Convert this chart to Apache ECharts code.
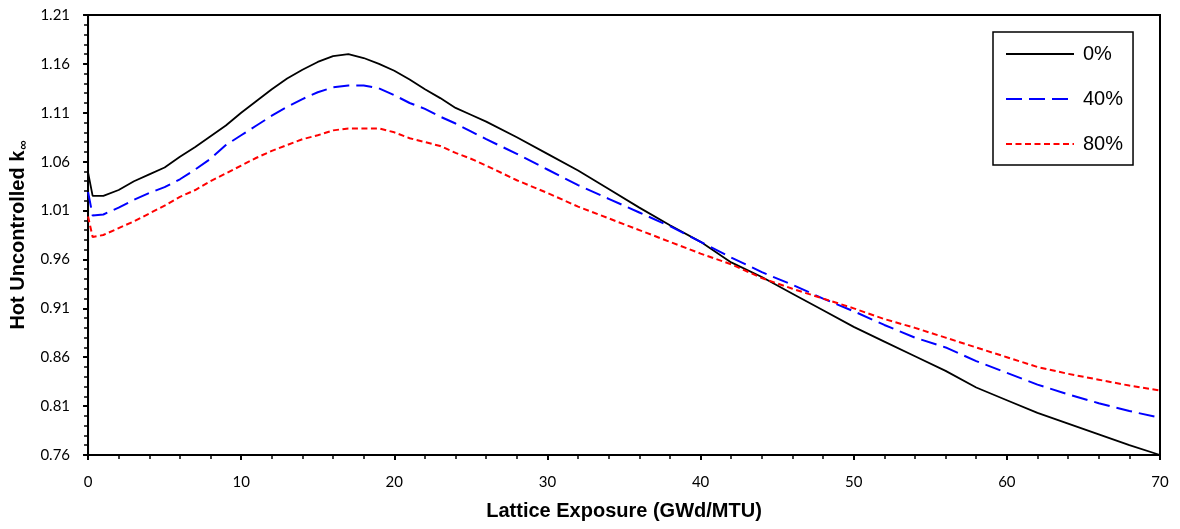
<!DOCTYPE html>
<html>
<head>
<meta charset="utf-8">
<script src="https://cdn.jsdelivr.net/npm/echarts@6/dist/echarts.min.js"></script>
<style>
  html, body { margin: 0; padding: 0; background: #fff; }
  #chart { width: 1180px; height: 529px; }
</style>
</head>
<body>
<div id="chart"></div>
<script>
// exposure grid (GWd/MTU) shared by all three curves
const exposure = [0, 0.3, 1, 2, 3, 4, 5, 6, 7, 8, 9, 10, 11, 12, 13, 14, 15, 16, 17, 18, 19, 20,
    21, 22, 23, 24, 25, 26, 28, 30, 32, 34, 36, 38, 40, 42, 44, 46, 48, 50, 52, 54, 56, 58, 60,
    62, 64, 66, 68, 70];

const k0 = [1.049, 1.025, 1.025, 1.031, 1.040, 1.047, 1.054, 1.065, 1.075, 1.086, 1.097, 1.110,
    1.122, 1.134, 1.145, 1.154, 1.162, 1.168, 1.170, 1.166, 1.160, 1.153, 1.144, 1.134, 1.125,
    1.115, 1.108, 1.101, 1.085, 1.068, 1.051, 1.032, 1.013, 0.995, 0.978, 0.957, 0.942, 0.925,
    0.908, 0.891, 0.876, 0.861, 0.846, 0.829, 0.816, 0.803, 0.792, 0.781, 0.770, 0.760];

const k40 = [1.029, 1.005, 1.006, 1.013, 1.021, 1.028, 1.034, 1.042, 1.052, 1.063, 1.077, 1.087,
    1.097, 1.107, 1.116, 1.124, 1.131, 1.136, 1.138, 1.138, 1.135, 1.128, 1.120, 1.114, 1.106,
    1.099, 1.091, 1.083, 1.068, 1.052, 1.036, 1.022, 1.008, 0.994, 0.978, 0.962, 0.947, 0.934,
    0.920, 0.907, 0.893, 0.880, 0.870, 0.856, 0.844, 0.832, 0.822, 0.813, 0.805, 0.798];

const k80 = [1.004, 0.983, 0.985, 0.992, 0.999, 1.007, 1.015, 1.024, 1.031, 1.040, 1.048, 1.056,
    1.064, 1.071, 1.077, 1.083, 1.087, 1.092, 1.094, 1.094, 1.094, 1.090, 1.084, 1.080, 1.076,
    1.069, 1.063, 1.056, 1.041, 1.028, 1.014, 1.002, 0.990, 0.978, 0.966, 0.955, 0.941, 0.930,
    0.920, 0.910, 0.899, 0.890, 0.880, 0.870, 0.860, 0.850, 0.843, 0.837, 0.831, 0.826];

const seriesNames = ['0%', '40%', '80%'];

const pairs = (ys) => exposure.map((x, i) => [x, ys[i]]);

const myChart = echarts.init(document.getElementById('chart'));

const tickFont = { fontFamily: 'Lato', fontSize: 15, color: '#000' };
const titleFont = { fontFamily: 'Liberation Sans', fontWeight: 'bold', color: '#000' };

const option = {
    backgroundColor: '#fff',
    animation: false,
    grid: {
        left: 86, right: 20, top: 15, bottom: 74,
        show: true, borderColor: '#000', borderWidth: 2
    },
    legend: {
        orient: 'vertical',
        left: 993, top: 32,
        data: seriesNames,
        itemWidth: 68, itemHeight: 20, itemGap: 25,
        padding: [12, 10, 11, 12],
        borderColor: '#000', borderWidth: 1.5,
        backgroundColor: '#fff',
        itemStyle: { opacity: 0 },
        textStyle: { fontFamily: 'Liberation Sans', fontSize: 20, color: '#000', lineHeight: 20, padding: [0, 0, 0, 4] }
    },
    xAxis: {
        type: 'value',
        min: 0, max: 70, interval: 10,
        name: 'Lattice Exposure (GWd/MTU)',
        nameLocation: 'middle',
        nameGap: 46,
        nameTextStyle: Object.assign({ fontSize: 20 }, titleFont),
        axisLine: { lineStyle: { color: '#000', width: 2 } },
        axisTick: { length: 5, lineStyle: { color: '#000', width: 2 } },
        minorTick: { show: true, splitNumber: 5, length: 4, lineStyle: { color: '#000', width: 1.5 } },
        splitLine: { show: false },
        axisLabel: Object.assign({ margin: 20 }, tickFont)
    },
    yAxis: {
        type: 'value',
        min: 0.76, max: 1.21, interval: 0.05,
        name: '{a|Hot Uncontrolled k}{b|∞}',
        nameLocation: 'middle',
        nameRotate: 90,
        nameGap: 57,
        nameTextStyle: {
            rich: {
                a: Object.assign({ fontSize: 20 }, titleFont),
                b: Object.assign({ fontSize: 13, padding: [10, 0, 0, 1] }, titleFont)
            }
        },
        axisLine: { show: true, lineStyle: { color: '#000', width: 2 } },
        axisTick: { show: true, length: 5, lineStyle: { color: '#000', width: 2 } },
        minorTick: { show: true, splitNumber: 5, length: 4, lineStyle: { color: '#000', width: 1.5 } },
        splitLine: { show: false },
        axisLabel: Object.assign({ margin: 18, formatter: (v) => v.toFixed(2) }, tickFont)
    },
    series: [
        {
            name: seriesNames[0], type: 'line', data: pairs(k0), symbol: 'none',
            lineStyle: { color: '#000', width: 1.8, type: 'solid' },
            itemStyle: { color: '#000' }
        },
        {
            name: seriesNames[1], type: 'line', data: pairs(k40), symbol: 'none',
            lineStyle: { color: '#0000ff', width: 2, type: [16, 7] },
            itemStyle: { color: '#0000ff' }
        },
        {
            name: seriesNames[2], type: 'line', data: pairs(k80), symbol: 'none',
            lineStyle: { color: '#ff0000', width: 2, type: [6, 3.5] },
            itemStyle: { color: '#ff0000' }
        }
    ]
};

myChart.setOption(option);
</script>
</body>
</html>
